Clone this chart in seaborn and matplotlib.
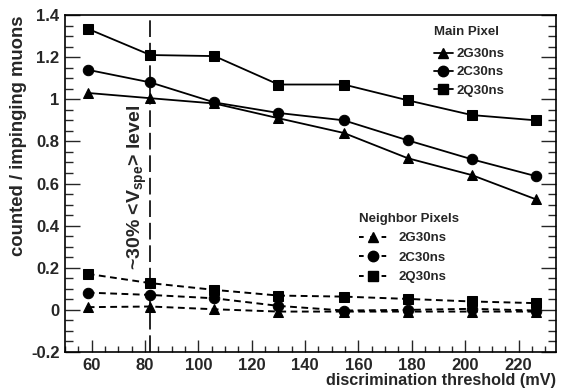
import matplotlib
matplotlib.use("Agg")
import matplotlib.pyplot as plt
import seaborn as sns
import pandas as pd
import numpy as np
from matplotlib.lines import Line2D
from matplotlib.ticker import MultipleLocator

threshold = [58.5, 82, 106, 130, 154.5, 178.5, 202.5, 226.5]
main_2G = [1.03, 1.005, 0.98, 0.91, 0.84, 0.72, 0.64, 0.525]
main_2C = [1.14, 1.08, 0.985, 0.935, 0.90, 0.805, 0.715, 0.635]
main_2Q = [1.335, 1.21, 1.205, 1.07, 1.07, 0.995, 0.925, 0.90]
nb_2G = [0.013, 0.016, 0.003, -0.008, -0.008, -0.008, -0.008, -0.008]
nb_2C = [0.082, 0.071, 0.055, 0.019, -0.003, 0.0, 0.005, -0.003]
nb_2Q = [0.171, 0.127, 0.095, 0.068, 0.063, 0.052, 0.040, 0.032]
series_names = ["2G30ns", "2C30ns", "2Q30ns"]
ytick_labels = ["-0.2", "0", "0.2", "0.4", "0.6", "0.8", "1", "1.2", "1.4"]
vline_x = 82

sns.set_theme(style="ticks")
plt.rcParams['font.family'] = ['Liberation Sans', 'DejaVu Sans']
plt.rcParams['font.weight'] = 'bold'
plt.rcParams['mathtext.fontset'] = 'custom'
plt.rcParams['mathtext.rm'] = 'Liberation Sans:bold'
plt.rcParams['mathtext.it'] = 'Liberation Sans:bold'
plt.rcParams['mathtext.bf'] = 'Liberation Sans:bold'

fig = plt.figure(figsize=(5.61, 3.90), dpi=100)
ax = fig.add_axes([0.1159, 0.0974, 0.875, 0.8641])

markers = ['^', 'o', 's']
msizes = [7.5, 7.5, 7.0]
main_handles = []
nb_handles = []
for name, vals, m, ms in zip(series_names, [main_2G, main_2C, main_2Q], markers, msizes):
    df = pd.DataFrame({"x": threshold, "y": vals})
    sns.lineplot(data=df, x="x", y="y", ax=ax, color='black', marker=m,
                 markersize=ms, markeredgecolor='black', linewidth=1.3, legend=False)
    main_handles.append(Line2D([], [], color='black', marker=m, markersize=ms, linewidth=1.3))
for name, vals, m, ms in zip(series_names, [nb_2G, nb_2C, nb_2Q], markers, msizes):
    df = pd.DataFrame({"x": threshold, "y": vals})
    sns.lineplot(data=df, x="x", y="y", ax=ax, color='black', marker=m,
                 markersize=ms, markeredgecolor='black', linewidth=1.4,
                 linestyle=(0, (3.5, 2.3)), legend=False)
    nb_handles.append(Line2D([], [], color='black', marker=m, markersize=ms, linewidth=1.4,
                             linestyle=(0, (2.4, 3.4))))

ax.axvline(vline_x, color='black', linewidth=1.2, linestyle=(0, (10, 3.5)))
ax.text(77.2, 0.58, r"~30% <V$_{\mathrm{spe}}$> level", rotation=90, ha='center', va='center',
        fontsize=14, fontweight='bold')

ax.set_xlim(50, 234)
ax.set_ylim(-0.2, 1.4)
ax.xaxis.set_major_locator(MultipleLocator(20))
ax.xaxis.set_minor_locator(MultipleLocator(5))
ax.yaxis.set_minor_locator(MultipleLocator(0.05))
ax.set_yticks(np.arange(-0.2, 1.41, 0.2))
ax.set_yticklabels(ytick_labels)
ax.tick_params(which='major', direction='in', length=11, width=1, labelsize=12,
               right=True, top=False, pad=4)
ax.tick_params(which='minor', direction='in', length=5.5, width=1, right=True, top=False)
ax.tick_params(axis='x', which='major', length=9)
ax.tick_params(axis='x', which='minor', length=4.5)
for lab in ax.get_xticklabels() + ax.get_yticklabels():
    lab.set_fontweight('bold')
for sp in ax.spines.values():
    sp.set_linewidth(1.2)
    sp.set_color('black')
ax.set_xlabel("discrimination threshold (mV)", fontsize=11.7, fontweight='bold', loc='right', labelpad=0)
ax.set_ylabel("counted / impinging muons", fontsize=13.3, fontweight='bold', loc='top', labelpad=3)

leg1 = ax.legend(main_handles, series_names, title="Main Pixel", loc='upper left',
                 bbox_to_anchor=(0.732, 0.994), frameon=False, fontsize=9.5,
                 title_fontproperties={'weight': 'bold', 'size': 9.5},
                 handlelength=1.5, handletextpad=0.2, labelspacing=0.45, borderpad=0.2)
leg1._legend_box.align = "left"
leg1._legend_box.sep = 7
ax.add_artist(leg1)
leg2 = ax.legend(nb_handles, series_names, title="Neighbor Pixels", loc='upper left',
                 bbox_to_anchor=(0.58, 0.44), frameon=False, fontsize=9.5,
                 title_fontproperties={'weight': 'bold', 'size': 9.5},
                 handlelength=2.1, handletextpad=0.9, labelspacing=0.55, borderpad=0.2)
leg2._legend_box.align = "left"

fig.savefig("out.png", dpi=100)
